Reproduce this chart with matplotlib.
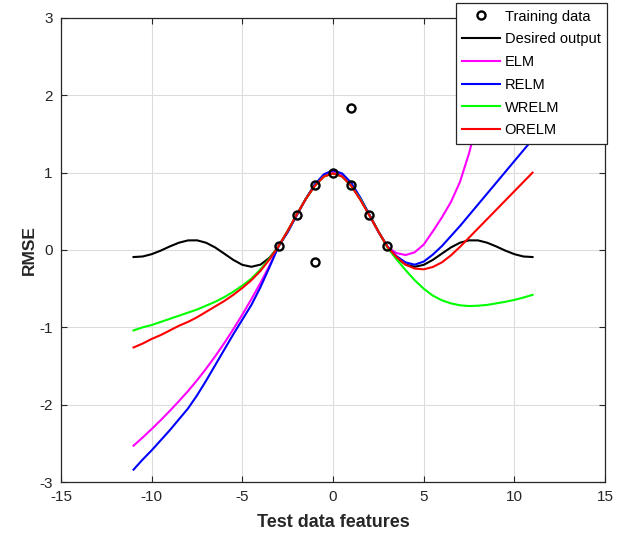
import matplotlib
matplotlib.use("Agg")
import matplotlib.pyplot as plt

plt.rcParams['font.family'] = ['Liberation Sans', 'DejaVu Sans']
plt.rcParams['axes.unicode_minus'] = False

x_test = [-11, -10.5, -10, -9.5, -9, -8.5, -8, -7.5, -7, -6.5, -6, -5.5, -5, -4.5, -4, -3.5, -3,
          -2.5, -2, -1.5, -1, -0.5, 0, 0.5, 1, 1.5, 2, 2.5,
          3, 3.5, 4, 4.5, 5, 5.5, 6, 6.5, 7, 7.5, 8, 8.5, 9, 9.5, 10, 10.5, 11]

desired = [-0.091, -0.084, -0.054, -0.008, 0.046, 0.094, 0.124, 0.125, 0.094, 0.033, -0.047, -0.128, -0.192, -0.217, -0.189, -0.100, 0.047,
           0.239, 0.455, 0.665, 0.841, 0.959, 1.0, 0.959, 0.841, 0.665, 0.455, 0.239,
           0.047, -0.100, -0.189, -0.217, -0.192, -0.128, -0.047, 0.033, 0.094, 0.125, 0.124, 0.094, 0.046, -0.008, -0.054, -0.084, -0.091]

elm = [-2.53, -2.425, -2.315, -2.20, -2.08, -1.955, -1.825, -1.685, -1.535, -1.375, -1.205, -1.025, -0.835, -0.635, -0.425, -0.200, 0.05,
       0.24, 0.45, 0.66, 0.84, 0.96, 1.01, 0.97, 0.86, 0.67, 0.45, 0.23,
       0.04, -0.04, -0.065, -0.03, 0.07, 0.24, 0.42, 0.62, 0.88, 1.25, 1.70, 2.20, 2.75, 3.30, 3.90, 4.50, 5.10]

relm = [-2.84, -2.71, -2.59, -2.46, -2.33, -2.19, -2.05, -1.88, -1.69, -1.49, -1.29, -1.09, -0.90, -0.71, -0.48, -0.22, 0.05,
        0.23, 0.45, 0.66, 0.85, 0.98, 1.03, 0.99, 0.87, 0.68, 0.46, 0.24,
        0.04, -0.08, -0.16, -0.19, -0.15, -0.06, 0.05, 0.18, 0.31, 0.45, 0.59, 0.73, 0.87, 1.01, 1.15, 1.29, 1.43]

wrelm = [-1.04, -1.00, -0.97, -0.93, -0.89, -0.85, -0.81, -0.77, -0.72, -0.67, -0.61, -0.54, -0.46, -0.37, -0.25, -0.11, 0.05,
         0.25, 0.46, 0.66, 0.83, 0.95, 0.99, 0.95, 0.83, 0.66, 0.45, 0.24,
         0.03, -0.12, -0.26, -0.39, -0.50, -0.59, -0.65, -0.69, -0.715, -0.725, -0.72, -0.71, -0.69, -0.67, -0.645, -0.615, -0.58]

orelm = [-1.26, -1.21, -1.15, -1.10, -1.04, -0.98, -0.93, -0.87, -0.80, -0.73, -0.66, -0.58, -0.49, -0.39, -0.27, -0.12, 0.05,
         0.25, 0.46, 0.66, 0.83, 0.95, 0.99, 0.95, 0.83, 0.65, 0.45, 0.24,
         0.04, -0.09, -0.19, -0.24, -0.25, -0.22, -0.16, -0.07, 0.04, 0.16, 0.28, 0.40, 0.52, 0.64, 0.76, 0.88, 1.00]

x_train = [-3, -2, -1, -1, 0, 1, 1, 2, 3]
y_train = [0.05, 0.45, 0.84, -0.16, 1.0, 0.84, 1.84, 0.45, 0.05]

fig = plt.figure(figsize=(6.27, 5.43), dpi=100)
ax = fig.add_axes([0.0973, 0.1123, 0.8677, 0.8546])

lw = 1.5
ax.plot(x_train, y_train, linestyle='none', marker='o', markersize=5.8, markerfacecolor='none',
        markeredgecolor='black', markeredgewidth=1.7, label='Training data', zorder=6)
ax.plot(x_test, desired, color='black', lw=lw, label='Desired output')
ax.plot(x_test, elm, color='#ff00ff', lw=lw, label='ELM')
ax.plot(x_test, relm, color='#0000ff', lw=lw, label='RELM')
ax.plot(x_test, wrelm, color='#00ff00', lw=lw, label='WRELM')
ax.plot(x_test, orelm, color='#ff0000', lw=lw, label='ORELM')

ax.set_xlim(-15, 15)
ax.set_ylim(-3, 3)
ax.set_xticks([-15, -10, -5, 0, 5, 10, 15])
ax.set_yticks([-3, -2, -1, 0, 1, 2, 3])
ax.grid(True, color='#dcdcdc', linewidth=0.8)
ax.set_axisbelow(True)
ax.tick_params(direction='in', top=True, right=True, labelsize=11, colors='#262626', length=4)
ax.tick_params(axis='x', pad=6)
ax.tick_params(axis='y', pad=6)
for s in ax.spines.values():
    s.set_color('#262626')
    s.set_linewidth(0.9)

ax.set_xlabel('Test data features', fontsize=13, fontweight='bold', color='#262626', labelpad=7)
ax.set_ylabel('RMSE', fontsize=12.5, fontweight='bold', color='#262626', labelpad=2)

leg = ax.legend(loc='upper right', bbox_to_anchor=(607/627, 1 - 3/543), bbox_transform=fig.transFigure,
                fontsize=10.5, frameon=True, fancybox=False, framealpha=1, edgecolor='#262626',
                handlelength=2.6, handletextpad=0.3, borderpad=0.45, labelspacing=0.6, borderaxespad=0)
leg.get_frame().set_linewidth(0.9)
leg.set_zorder(10)

fig.savefig('out.png', dpi=100)
